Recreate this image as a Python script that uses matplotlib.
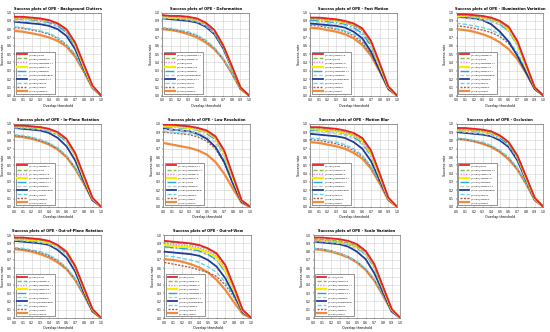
import numpy as np
import matplotlib
matplotlib.use("Agg")
import matplotlib.pyplot as plt

thresholds = [0.0, 0.1, 0.2, 0.3, 0.4, 0.5, 0.6, 0.7, 0.8, 0.9, 1.0]

# ---- Background Clutters
bc_names = ["Ours", "SiamBAN", "SiamRPN++", "SiamCAR", "SiamDW", "DaSiamRPN", "SiamFC++", "SRDCF", "CFNet", "SiamFC"]
bc_scores = [0.682, 0.680, 0.679, 0.675, 0.667, 0.662, 0.645, 0.583, 0.566, 0.537]
bc_curves = [
    [0.95, 0.95, 0.94, 0.93, 0.91, 0.87, 0.80, 0.64, 0.38, 0.12, 0.0],
    [0.94, 0.94, 0.93, 0.92, 0.90, 0.86, 0.79, 0.63, 0.37, 0.12, 0.0],
    [0.93, 0.93, 0.92, 0.91, 0.89, 0.85, 0.78, 0.62, 0.36, 0.11, 0.0],
    [0.93, 0.93, 0.92, 0.92, 0.90, 0.87, 0.80, 0.62, 0.35, 0.11, 0.0],
    [0.92, 0.92, 0.91, 0.90, 0.88, 0.84, 0.76, 0.60, 0.35, 0.11, 0.0],
    [0.90, 0.90, 0.89, 0.88, 0.86, 0.83, 0.76, 0.60, 0.34, 0.10, 0.0],
    [0.89, 0.88, 0.87, 0.86, 0.84, 0.80, 0.72, 0.56, 0.32, 0.10, 0.0],
    [0.83, 0.82, 0.80, 0.78, 0.75, 0.70, 0.62, 0.50, 0.30, 0.09, 0.0],
    [0.82, 0.81, 0.79, 0.77, 0.74, 0.69, 0.61, 0.49, 0.29, 0.09, 0.0],
    [0.78, 0.77, 0.75, 0.73, 0.70, 0.66, 0.59, 0.47, 0.29, 0.09, 0.0],
]

# ---- Deformation
def_names = ["SiamRPN++", "SiamBAN", "Ours", "SiamCAR", "SiamDW", "DaSiamRPN", "SiamFC++", "SRDCF", "CFNet", "SiamFC"]
def_scores = [0.697, 0.686, 0.682, 0.667, 0.662, 0.657, 0.648, 0.556, 0.528, 0.512]
def_curves = [
    [0.97, 0.96, 0.96, 0.95, 0.93, 0.88, 0.79, 0.61, 0.36, 0.10, 0.0],
    [0.96, 0.96, 0.95, 0.94, 0.92, 0.87, 0.78, 0.60, 0.35, 0.10, 0.0],
    [0.95, 0.95, 0.94, 0.93, 0.91, 0.86, 0.77, 0.60, 0.35, 0.10, 0.0],
    [0.95, 0.94, 0.94, 0.93, 0.91, 0.87, 0.79, 0.61, 0.35, 0.10, 0.0],
    [0.94, 0.94, 0.93, 0.92, 0.90, 0.85, 0.76, 0.58, 0.34, 0.10, 0.0],
    [0.93, 0.93, 0.92, 0.91, 0.89, 0.84, 0.75, 0.58, 0.33, 0.09, 0.0],
    [0.93, 0.92, 0.91, 0.90, 0.88, 0.83, 0.74, 0.57, 0.33, 0.09, 0.0],
    [0.82, 0.81, 0.79, 0.77, 0.73, 0.67, 0.58, 0.45, 0.28, 0.08, 0.0],
    [0.81, 0.80, 0.78, 0.76, 0.72, 0.66, 0.57, 0.44, 0.27, 0.08, 0.0],
    [0.80, 0.79, 0.77, 0.74, 0.70, 0.64, 0.56, 0.44, 0.27, 0.08, 0.0],
]

# ---- Fast Motion
fm_names = ["SiamCAR", "Ours", "SiamBAN", "SiamFC++", "SiamRPN++", "SiamDW", "DaSiamRPN", "SRDCF", "SiamFC", "CFNet"]
fm_scores = [0.702, 0.694, 0.685, 0.683, 0.676, 0.660, 0.627, 0.612, 0.593, 0.562]
fm_curves = [
    [0.94, 0.94, 0.93, 0.92, 0.90, 0.87, 0.81, 0.66, 0.39, 0.11, 0.0],
    [0.93, 0.93, 0.92, 0.91, 0.89, 0.85, 0.79, 0.64, 0.38, 0.11, 0.0],
    [0.92, 0.92, 0.91, 0.90, 0.88, 0.84, 0.78, 0.63, 0.37, 0.10, 0.0],
    [0.93, 0.92, 0.91, 0.90, 0.88, 0.85, 0.80, 0.64, 0.36, 0.10, 0.0],
    [0.91, 0.90, 0.89, 0.88, 0.86, 0.82, 0.75, 0.60, 0.35, 0.10, 0.0],
    [0.89, 0.88, 0.87, 0.86, 0.84, 0.80, 0.73, 0.58, 0.34, 0.10, 0.0],
    [0.87, 0.86, 0.85, 0.84, 0.82, 0.77, 0.69, 0.53, 0.30, 0.08, 0.0],
    [0.86, 0.85, 0.83, 0.81, 0.78, 0.74, 0.66, 0.52, 0.31, 0.09, 0.0],
    [0.85, 0.84, 0.82, 0.80, 0.77, 0.72, 0.64, 0.50, 0.30, 0.08, 0.0],
    [0.82, 0.81, 0.79, 0.77, 0.74, 0.69, 0.61, 0.48, 0.29, 0.08, 0.0],
]

# ---- Illumination Variation
iv_names = ["SiamBAN", "Ours", "SiamRPN++", "SiamCAR", "SiamFC++", "DaSiamRPN", "SiamDW", "SRDCF", "SiamFC", "CFNet"]
iv_scores = [0.720, 0.717, 0.714, 0.705, 0.690, 0.686, 0.665, 0.613, 0.603, 0.567]
iv_curves = [
    [0.98, 0.98, 0.97, 0.96, 0.94, 0.90, 0.83, 0.66, 0.38, 0.10, 0.0],
    [0.97, 0.97, 0.96, 0.95, 0.93, 0.89, 0.82, 0.65, 0.37, 0.10, 0.0],
    [0.97, 0.96, 0.95, 0.94, 0.92, 0.88, 0.81, 0.64, 0.36, 0.10, 0.0],
    [0.96, 0.96, 0.95, 0.94, 0.92, 0.88, 0.80, 0.63, 0.35, 0.10, 0.0],
    [0.95, 0.95, 0.94, 0.93, 0.91, 0.86, 0.78, 0.61, 0.35, 0.10, 0.0],
    [0.94, 0.93, 0.92, 0.91, 0.89, 0.85, 0.77, 0.60, 0.34, 0.09, 0.0],
    [0.95, 0.94, 0.93, 0.91, 0.86, 0.77, 0.65, 0.48, 0.28, 0.08, 0.0],
    [0.87, 0.86, 0.84, 0.82, 0.79, 0.74, 0.66, 0.52, 0.31, 0.09, 0.0],
    [0.84, 0.83, 0.81, 0.79, 0.76, 0.71, 0.63, 0.49, 0.29, 0.08, 0.0],
    [0.80, 0.79, 0.77, 0.74, 0.70, 0.64, 0.56, 0.44, 0.27, 0.08, 0.0],
]

# ---- In-Plane Rotation
ipr_names = ["SiamBAN", "Ours", "SiamCAR", "SiamRPN++", "SiamFC++", "SiamDW", "DaSiamRPN", "CFNet", "SiamFC", "SRDCF"]
ipr_scores = [0.717, 0.712, 0.705, 0.704, 0.695, 0.684, 0.662, 0.587, 0.576, 0.544]
ipr_curves = [
    [0.98, 0.98, 0.97, 0.96, 0.94, 0.90, 0.82, 0.65, 0.38, 0.11, 0.0],
    [0.98, 0.97, 0.97, 0.96, 0.94, 0.89, 0.81, 0.64, 0.37, 0.10, 0.0],
    [0.97, 0.96, 0.96, 0.95, 0.93, 0.89, 0.81, 0.64, 0.36, 0.10, 0.0],
    [0.97, 0.96, 0.96, 0.95, 0.93, 0.89, 0.81, 0.63, 0.35, 0.10, 0.0],
    [0.96, 0.95, 0.95, 0.94, 0.92, 0.87, 0.79, 0.62, 0.35, 0.10, 0.0],
    [0.95, 0.95, 0.94, 0.93, 0.91, 0.86, 0.78, 0.61, 0.34, 0.09, 0.0],
    [0.95, 0.94, 0.93, 0.92, 0.89, 0.83, 0.73, 0.56, 0.31, 0.08, 0.0],
    [0.87, 0.86, 0.84, 0.81, 0.77, 0.71, 0.62, 0.48, 0.29, 0.08, 0.0],
    [0.86, 0.85, 0.83, 0.80, 0.76, 0.70, 0.61, 0.47, 0.28, 0.08, 0.0],
    [0.85, 0.84, 0.82, 0.79, 0.75, 0.69, 0.60, 0.46, 0.28, 0.08, 0.0],
]

# ---- Low Resolution
lr_names = ["SiamFC++", "SiamRPN++", "SiamBAN", "SiamCAR", "Ours", "SiamDW", "DaSiamRPN", "SiamFC", "CFNet", "SRDCF"]
lr_scores = [0.725, 0.720, 0.716, 0.709, 0.701, 0.688, 0.666, 0.645, 0.616, 0.514]
lr_curves = [
    [0.99, 0.99, 0.98, 0.97, 0.95, 0.92, 0.85, 0.68, 0.38, 0.08, 0.0],
    [0.99, 0.98, 0.98, 0.97, 0.95, 0.91, 0.84, 0.67, 0.37, 0.08, 0.0],
    [0.98, 0.98, 0.97, 0.96, 0.94, 0.90, 0.83, 0.66, 0.36, 0.08, 0.0],
    [0.97, 0.97, 0.96, 0.95, 0.93, 0.90, 0.83, 0.65, 0.35, 0.08, 0.0],
    [0.96, 0.96, 0.95, 0.94, 0.92, 0.88, 0.81, 0.63, 0.34, 0.07, 0.0],
    [0.93, 0.93, 0.92, 0.91, 0.89, 0.85, 0.77, 0.60, 0.32, 0.07, 0.0],
    [0.94, 0.93, 0.92, 0.91, 0.88, 0.82, 0.72, 0.54, 0.28, 0.06, 0.0],
    [0.91, 0.90, 0.89, 0.88, 0.86, 0.81, 0.72, 0.56, 0.30, 0.07, 0.0],
    [0.90, 0.89, 0.88, 0.87, 0.84, 0.79, 0.70, 0.53, 0.28, 0.06, 0.0],
    [0.77, 0.75, 0.73, 0.71, 0.68, 0.63, 0.54, 0.40, 0.22, 0.05, 0.0],
]

# ---- Motion Blur
mb_names = ["Ours", "SiamCAR", "SiamBAN", "SiamRPN++", "SiamFC++", "SiamDW", "DaSiamRPN", "SRDCF", "SiamFC", "CFNet"]
mb_scores = [0.721, 0.713, 0.695, 0.690, 0.682, 0.660, 0.625, 0.594, 0.584, 0.565]
mb_curves = [
    [0.96, 0.96, 0.95, 0.94, 0.92, 0.89, 0.83, 0.68, 0.40, 0.11, 0.0],
    [0.95, 0.95, 0.94, 0.93, 0.91, 0.88, 0.82, 0.67, 0.39, 0.11, 0.0],
    [0.94, 0.94, 0.93, 0.92, 0.90, 0.86, 0.80, 0.65, 0.38, 0.10, 0.0],
    [0.94, 0.93, 0.92, 0.91, 0.89, 0.86, 0.80, 0.64, 0.37, 0.10, 0.0],
    [0.92, 0.92, 0.91, 0.90, 0.88, 0.84, 0.77, 0.62, 0.36, 0.10, 0.0],
    [0.90, 0.90, 0.89, 0.88, 0.86, 0.82, 0.75, 0.60, 0.35, 0.10, 0.0],
    [0.88, 0.87, 0.86, 0.85, 0.83, 0.78, 0.70, 0.55, 0.32, 0.09, 0.0],
    [0.83, 0.82, 0.80, 0.78, 0.75, 0.70, 0.62, 0.49, 0.30, 0.09, 0.0],
    [0.81, 0.80, 0.78, 0.76, 0.73, 0.68, 0.61, 0.48, 0.29, 0.08, 0.0],
    [0.78, 0.77, 0.75, 0.73, 0.70, 0.65, 0.58, 0.46, 0.28, 0.08, 0.0],
]

# ---- Occlusion
occ_names = ["Ours", "SiamRPN++", "SiamCAR", "SiamBAN", "SiamDW", "SiamFC++", "DaSiamRPN", "SRDCF", "SiamFC", "CFNet"]
occ_scores = [0.665, 0.662, 0.653, 0.652, 0.640, 0.636, 0.617, 0.545, 0.539, 0.527]
occ_curves = [
    [0.95, 0.95, 0.94, 0.93, 0.91, 0.86, 0.78, 0.62, 0.37, 0.11, 0.0],
    [0.94, 0.94, 0.93, 0.92, 0.90, 0.85, 0.77, 0.61, 0.36, 0.10, 0.0],
    [0.93, 0.93, 0.92, 0.91, 0.89, 0.85, 0.77, 0.61, 0.36, 0.10, 0.0],
    [0.93, 0.93, 0.92, 0.91, 0.89, 0.85, 0.78, 0.61, 0.35, 0.10, 0.0],
    [0.92, 0.92, 0.91, 0.90, 0.88, 0.83, 0.75, 0.59, 0.34, 0.10, 0.0],
    [0.91, 0.90, 0.89, 0.88, 0.86, 0.82, 0.74, 0.58, 0.33, 0.09, 0.0],
    [0.90, 0.89, 0.88, 0.87, 0.85, 0.80, 0.72, 0.56, 0.32, 0.09, 0.0],
    [0.83, 0.82, 0.80, 0.78, 0.74, 0.68, 0.60, 0.47, 0.29, 0.09, 0.0],
    [0.82, 0.81, 0.79, 0.77, 0.73, 0.67, 0.59, 0.46, 0.28, 0.08, 0.0],
    [0.82, 0.81, 0.79, 0.76, 0.72, 0.66, 0.57, 0.45, 0.28, 0.08, 0.0],
]

# ---- Out-of-Plane Rotation
opr_names = ["Ours", "SiamBAN", "SiamRPN++", "SiamCAR", "SiamFC++", "SiamDW", "DaSiamRPN", "SiamFC", "CFNet", "SRDCF"]
opr_scores = [0.692, 0.687, 0.685, 0.678, 0.673, 0.661, 0.644, 0.569, 0.558, 0.542]
opr_curves = [
    [0.97, 0.97, 0.96, 0.95, 0.93, 0.88, 0.80, 0.63, 0.37, 0.11, 0.0],
    [0.96, 0.96, 0.95, 0.94, 0.92, 0.87, 0.79, 0.62, 0.36, 0.10, 0.0],
    [0.96, 0.95, 0.95, 0.94, 0.92, 0.87, 0.79, 0.62, 0.35, 0.10, 0.0],
    [0.95, 0.95, 0.94, 0.93, 0.91, 0.87, 0.80, 0.62, 0.35, 0.10, 0.0],
    [0.95, 0.94, 0.93, 0.92, 0.90, 0.86, 0.78, 0.61, 0.35, 0.10, 0.0],
    [0.94, 0.93, 0.92, 0.91, 0.89, 0.84, 0.76, 0.60, 0.34, 0.09, 0.0],
    [0.93, 0.92, 0.91, 0.90, 0.88, 0.82, 0.73, 0.56, 0.31, 0.08, 0.0],
    [0.85, 0.84, 0.82, 0.80, 0.76, 0.70, 0.61, 0.48, 0.29, 0.08, 0.0],
    [0.84, 0.83, 0.81, 0.79, 0.75, 0.69, 0.60, 0.47, 0.28, 0.08, 0.0],
    [0.83, 0.82, 0.80, 0.77, 0.73, 0.67, 0.59, 0.46, 0.28, 0.08, 0.0],
]

# ---- Out-of-View
ov_names = ["Ours", "SiamCAR", "SiamBAN", "SiamDW", "SiamRPN++", "SiamFC++", "DaSiamRPN", "SiamFC", "SRDCF", "CFNet"]
ov_scores = [0.665, 0.654, 0.642, 0.631, 0.612, 0.604, 0.567, 0.523, 0.503, 0.484]
ov_curves = [
    [0.93, 0.92, 0.91, 0.90, 0.88, 0.84, 0.78, 0.64, 0.38, 0.10, 0.0],
    [0.92, 0.91, 0.90, 0.89, 0.87, 0.83, 0.77, 0.63, 0.37, 0.10, 0.0],
    [0.90, 0.89, 0.88, 0.87, 0.85, 0.81, 0.75, 0.61, 0.36, 0.09, 0.0],
    [0.88, 0.87, 0.86, 0.85, 0.83, 0.79, 0.73, 0.58, 0.34, 0.09, 0.0],
    [0.86, 0.85, 0.84, 0.83, 0.81, 0.77, 0.70, 0.56, 0.33, 0.09, 0.0],
    [0.85, 0.84, 0.83, 0.82, 0.80, 0.76, 0.69, 0.55, 0.32, 0.08, 0.0],
    [0.80, 0.79, 0.78, 0.77, 0.75, 0.70, 0.62, 0.48, 0.28, 0.07, 0.0],
    [0.75, 0.74, 0.72, 0.70, 0.67, 0.62, 0.55, 0.43, 0.26, 0.07, 0.0],
    [0.67, 0.65, 0.63, 0.61, 0.58, 0.55, 0.50, 0.40, 0.25, 0.07, 0.0],
    [0.71, 0.70, 0.68, 0.65, 0.61, 0.55, 0.46, 0.34, 0.19, 0.05, 0.0],
]

# ---- Scale Variation
sv_names = ["Ours", "SiamCAR", "SiamRPN++", "SiamBAN", "SiamFC++", "SiamDW", "DaSiamRPN", "SRDCF", "SiamFC", "CFNet"]
sv_scores = [0.713, 0.696, 0.688, 0.686, 0.677, 0.665, 0.640, 0.559, 0.553, 0.535]
sv_curves = [
    [0.97, 0.97, 0.96, 0.95, 0.93, 0.89, 0.81, 0.65, 0.38, 0.11, 0.0],
    [0.95, 0.95, 0.94, 0.93, 0.91, 0.87, 0.80, 0.64, 0.37, 0.10, 0.0],
    [0.94, 0.94, 0.93, 0.92, 0.90, 0.86, 0.79, 0.63, 0.36, 0.10, 0.0],
    [0.95, 0.94, 0.93, 0.92, 0.90, 0.86, 0.79, 0.63, 0.36, 0.10, 0.0],
    [0.93, 0.93, 0.92, 0.91, 0.89, 0.85, 0.77, 0.61, 0.35, 0.10, 0.0],
    [0.92, 0.92, 0.91, 0.90, 0.88, 0.83, 0.76, 0.60, 0.34, 0.09, 0.0],
    [0.92, 0.91, 0.90, 0.89, 0.86, 0.80, 0.71, 0.54, 0.31, 0.08, 0.0],
    [0.84, 0.83, 0.81, 0.78, 0.74, 0.68, 0.60, 0.47, 0.29, 0.08, 0.0],
    [0.84, 0.83, 0.81, 0.78, 0.74, 0.68, 0.59, 0.46, 0.28, 0.08, 0.0],
    [0.83, 0.82, 0.80, 0.77, 0.73, 0.67, 0.58, 0.45, 0.27, 0.08, 0.0],
]

panels = [
    ("Background Clutters", bc_names, bc_scores, bc_curves),
    ("Deformation", def_names, def_scores, def_curves),
    ("Fast Motion", fm_names, fm_scores, fm_curves),
    ("Illumination Variation", iv_names, iv_scores, iv_curves),
    ("In-Plane Rotation", ipr_names, ipr_scores, ipr_curves),
    ("Low Resolution", lr_names, lr_scores, lr_curves),
    ("Motion Blur", mb_names, mb_scores, mb_curves),
    ("Occlusion", occ_names, occ_scores, occ_curves),
    ("Out-of-Plane Rotation", opr_names, opr_scores, opr_curves),
    ("Out-of-View", ov_names, ov_scores, ov_curves),
    ("Scale Variation", sv_names, sv_scores, sv_curves),
]

# line style by rank in the legend
rank_styles = [
    ("#e8202a", "-", 1.3),
    ("#7dc242", (0, (3, 1.5)), 1.0),
    ("#e07ee0", (0, (1, 1)), 1.0),
    ("#f7ef00", "-", 1.6),
    ("#1ea7e1", "-.", 1.0),
    ("#b9c9cf", (0, (3, 1.5)), 0.9),
    ("#1f3c96", "-", 1.3),
    ("#62d6e6", (0, (3, 1.5)), 1.0),
    ("#b0604a", (0, (1.5, 1)), 1.0),
    ("#f08a3c", "-", 1.6),
]

# axes boxes (left, bottom) in figure fraction
boxes = [
    (0.026, 0.712), (0.295, 0.712), (0.564, 0.712), (0.830, 0.712),
    (0.026, 0.377), (0.297, 0.377), (0.564, 0.377), (0.830, 0.377),
    (0.026, 0.042), (0.299, 0.042), (0.570, 0.042),
]
ax_w, ax_h = 0.158, 0.250

fig = plt.figure(figsize=(5.5, 3.32), dpi=100)
ticks = np.arange(0, 1.01, 0.1)

for (title, names, scores, curves), (left, bottom) in zip(panels, boxes):
    ax = fig.add_axes([left, bottom, ax_w, ax_h])
    for rank, (name, score, ys) in enumerate(zip(names, scores, curves)):
        color, ls, lw = rank_styles[rank]
        ax.plot(thresholds, ys, color=color, linestyle=ls, linewidth=lw,
                label=f"[{score:.3f}] {name}", zorder=20 - rank)
    ax.set_xlim(0, 1)
    ax.set_ylim(0, 1)
    ax.set_xticks(ticks)
    ax.set_yticks(ticks)
    ax.set_xticklabels([f"{t:.1f}" for t in ticks])
    ax.set_yticklabels([f"{t:.1f}" for t in ticks])
    ax.tick_params(labelsize=2.2, length=1, width=0.3, pad=1)
    ax.grid(True, color="#d0d0d0", linewidth=0.4)
    for sp in ax.spines.values():
        sp.set_linewidth(0.4)
        sp.set_color("#555555")
    ax.set_title(f"Success plots of OPE - {title}", fontsize=2.6,
                 fontweight="bold", pad=2)
    ax.set_xlabel("Overlap threshold", fontsize=2.4, labelpad=1)
    ax.set_ylabel("Success rate", fontsize=2.4, labelpad=1)
    leg = ax.legend(loc="lower left", fontsize=1.75, handlelength=4.0,
                    labelspacing=0.75, borderpad=0.6, handletextpad=0.8,
                    framealpha=1, fancybox=False, edgecolor="#444444",
                    borderaxespad=0.7)
    leg.get_frame().set_linewidth(0.4)

fig.savefig("out.png", dpi=100)
